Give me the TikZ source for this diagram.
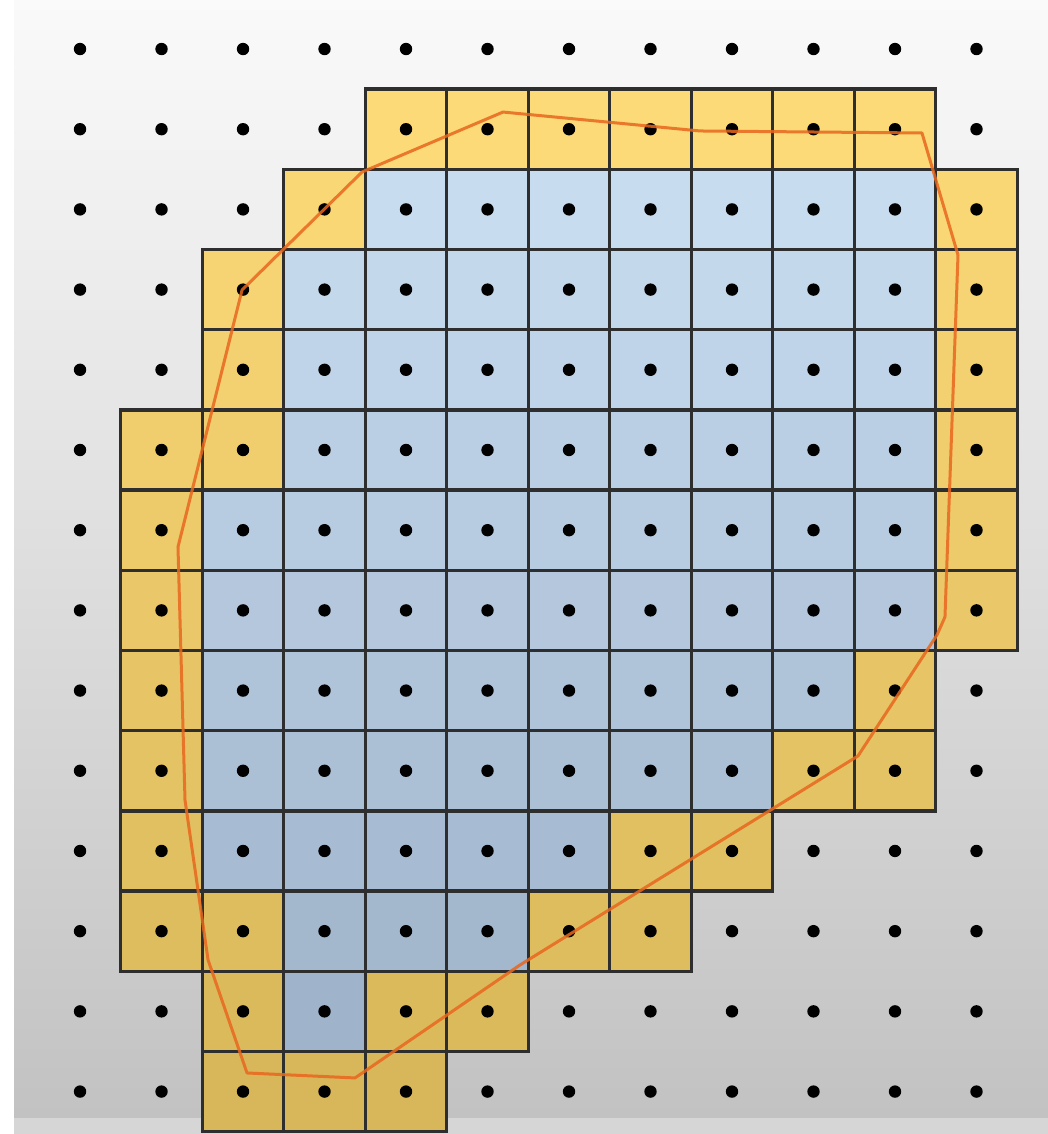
\documentclass[tikz,border=0pt]{standalone}
\usepackage{xcolor}
\definecolor{bgtop}{HTML}{FAFAFA}
\definecolor{bgbot}{HTML}{C2C2C2}
\definecolor{yeltop}{HTML}{FCDA78}
\definecolor{yelbot}{HTML}{D8B75A}
\definecolor{blutop}{HTML}{CCE0F4}
\definecolor{blubot}{HTML}{9BAFC6}
\definecolor{hullorange}{HTML}{E8671E}
\tikzset{
  cellline/.style={line width=1.7pt, black!82},
  hullline/.style={line width=1.5pt, hullorange, line join=round, opacity=0.85},
  dotmark/.style={black},
}

\begin{document}
\begin{tikzpicture}[x=40.75pt,y=-40.1pt]
\useasboundingbox (-0.982,-0.611) rectangle (11.877,13.529);
% backdrop
\shade[top color=bgtop, bottom color=bgbot] (-0.810,-0.611) rectangle (11.877,13.329);
\fill[white] (-0.982,-0.611) rectangle (-0.810,13.529);
\fill[black!16] (-0.810,13.329) rectangle (11.877,13.529);
% outer cells (row/first/last column)
\foreach \r/\a/\b in {1/4/10, 2/3/3, 2/11/11, 3/2/2, 3/11/11, 4/2/2, 4/11/11, 5/1/2, 5/11/11,
    6/1/1, 6/11/11, 7/1/1, 7/11/11, 8/1/1, 8/10/10, 9/1/1, 9/9/10, 10/1/1, 10/7/8,
    11/1/2, 11/6/7, 12/2/2, 12/4/5, 13/2/4}{
  \pgfmathtruncatemacro\t{100-(\r-1)*8.33}
  \foreach \c in {\a,...,\b}
    \fill[yeltop!\t!yelbot] (\c-0.5,\r-0.5) rectangle ++(1,1);
}
% inner cells
\foreach \r/\a/\b in {2/4/10, 3/3/10, 4/3/10, 5/3/10, 6/2/10, 7/2/10, 8/2/9, 9/2/8,
    10/2/6, 11/3/5, 12/3/3}{
  \pgfmathtruncatemacro\t{100-(\r-1)*8.33}
  \foreach \c in {\a,...,\b}
    \fill[blutop!\t!blubot] (\c-0.5,\r-0.5) rectangle ++(1,1);
}
% cell borders
\foreach \r/\a/\b in {1/4/10, 2/3/11, 3/2/11, 4/2/11, 5/1/11, 6/1/11, 7/1/11, 8/1/10,
    9/1/10, 10/1/8, 11/1/7, 12/2/5, 13/2/4}{
  \foreach \c in {\a,...,\b}
    \draw[cellline] (\c-0.5,\r-0.5) rectangle ++(1,1);
}
% sample points
\foreach \c in {0,...,11}
  \foreach \r in {0,...,13}
    \fill[dotmark] (\c,\r) circle[radius=3.1pt];
% hull
\draw[hullline] (5.190,0.786) -- (7.607,1.022) -- (10.331,1.047) -- (10.773,2.569)
  -- (10.613,7.082) -- (10.515,7.307) -- (9.546,8.815) -- (5.399,11.421)
  -- (3.374,12.830) -- (2.049,12.768) -- (1.571,11.359) -- (1.288,9.364)
  -- (1.202,6.209) -- (1.988,3.005) -- (3.460,1.534) -- cycle;
\end{tikzpicture}
\end{document}
